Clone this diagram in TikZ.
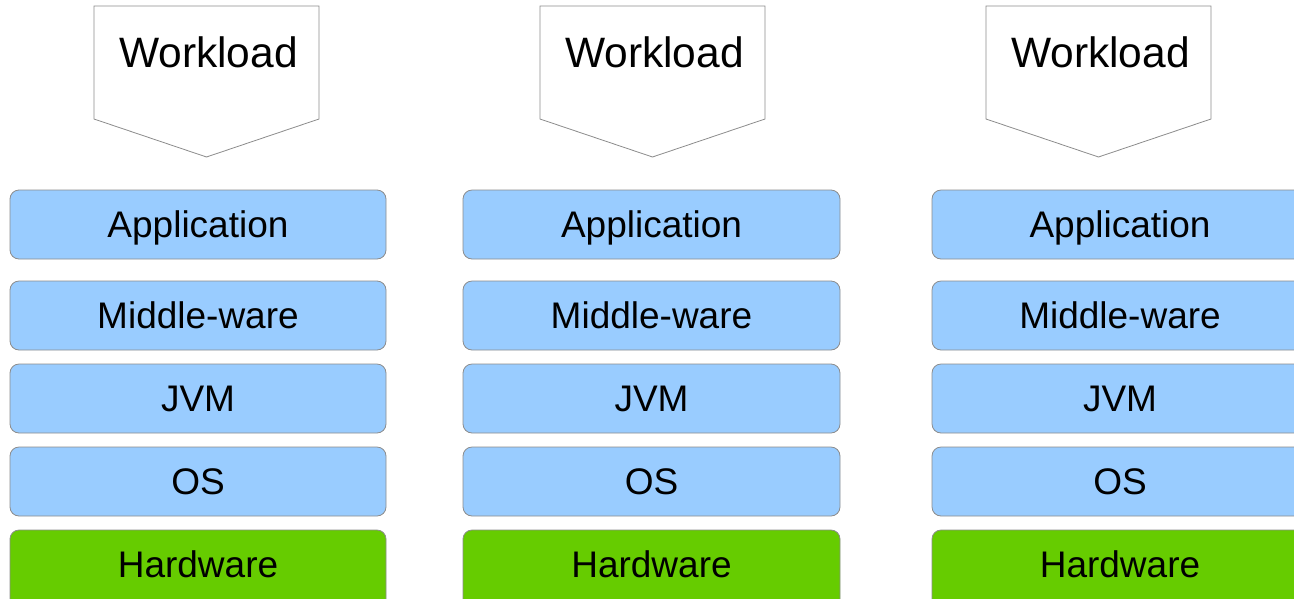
\documentclass[tikz,border=0pt]{standalone}
\usepackage{fontspec}
\setmainfont{Liberation Sans}
\begin{document}
\begin{tikzpicture}[x=1pt,y=-1pt,
  layer/.style={draw=black!45, line width=0.8pt, rounded corners=9pt},
  soft/.style={layer, fill=blueL},
  hard/.style={layer, fill=greenH},
  lbl/.style={font=\fontsize{37}{42}\selectfont, inner sep=0pt, anchor=base},
  wl/.style={draw=black!45, line width=0.8pt, fill=white},
  wltxt/.style={font=\fontsize{42.5}{48}\selectfont, inner sep=0pt, anchor=base}]
\definecolor{blueL}{HTML}{99CCFF}
\definecolor{greenH}{HTML}{66CC00}
\useasboundingbox (0,0) rectangle (1294,598);
\clip (0,0) rectangle (1294,598);
% three identical stacks: left edge, right edge, workload left edge
\foreach \i/\bl/\br/\wx in {1/10/386/94, 2/463/840/540, 3/932/1320/986}{
  \pgfmathsetmacro{\cx}{(\bl+\br)/2}
  \pgfmathsetmacro{\wc}{\wx+112.5}
  \pgfmathsetmacro{\tc}{\i==3 ? 1120 : \cx}
  % workload arrow
  \draw[wl] (\wx,6) -- (\wx+225,6) -- (\wx+225,119) -- (\wc,157) -- (\wx,119) -- cycle;
  \node[wltxt] (wl\i) at (\wc+2,67) {Workload};
  % layers
  \draw[soft] (\bl,190) rectangle (\br,259);
  \node[lbl] (app\i) at (\tc,237) {Application};
  \draw[soft] (\bl,281) rectangle (\br,350);
  \node[lbl] (mw\i) at (\tc,328) {Middle-ware};
  \draw[soft] (\bl,364) rectangle (\br,433);
  \node[lbl] (jvm\i) at (\tc,411) {JVM};
  \draw[soft] (\bl,447) rectangle (\br,516);
  \node[lbl] (os\i) at (\tc,494) {OS};
  \draw[hard] (\bl,530) rectangle (\br,610);
  \node[lbl] (hw\i) at (\tc,577) {Hardware};
}
\end{tikzpicture}
\end{document}
